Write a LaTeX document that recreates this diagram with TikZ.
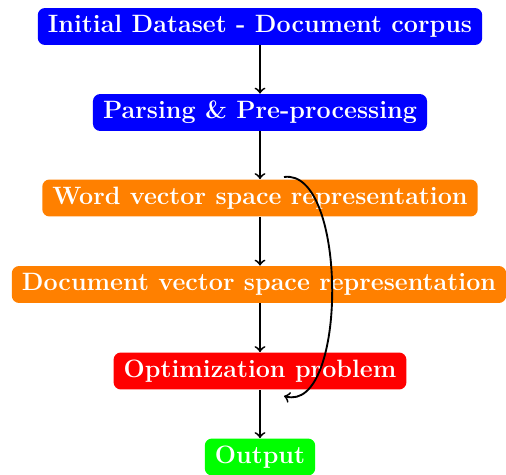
\documentclass[tikz,border=0pt]{standalone}
\usetikzlibrary{arrows}
\begin{document}
\begin{tikzpicture}[x=0.4545pt,y=-0.4545pt,
  box/.style={rounded corners=3.3pt, text=white, font=\fontsize{11.4}{13.5}\selectfont\bfseries, inner xsep=4.6pt, minimum height=16.8pt, text height=7.8pt, text depth=2.2pt},
  conn/.style={->, line width=0.85pt}]
\useasboundingbox (0,0) rectangle (506,475);
\node[box, fill=blue] (init) at (260,26.5) {Initial Dataset - Document corpus};
\node[box, fill=blue] (parse) at (260,112.5) {Parsing \& Pre-processing};
\node[box, fill={rgb,255:red,255;green,128;blue,0}] (word) at (260,198) {Word vector space representation};
\node[box, fill={rgb,255:red,255;green,128;blue,0}] (doc) at (259,284.5) {Document vector space representation};
\node[box, fill=red] (opt) at (260,371) {Optimization problem};
\node[box, fill=green] (out) at (260,457) {Output};
\draw[conn] (init) -- (parse);
\draw[conn] (parse) -- (word);
\draw[conn] (word.south) -- (word.south |- doc.north);
\draw[conn] (opt.north |- doc.south) -- (opt.north);
\draw[conn] (opt) -- (out);
\coordinate (loopstart) at (284,177);
\coordinate (loopend) at (284,396);
\draw[conn] (loopstart) .. controls (348,168) and (348,414) .. (loopend);
\end{tikzpicture}
\end{document}
